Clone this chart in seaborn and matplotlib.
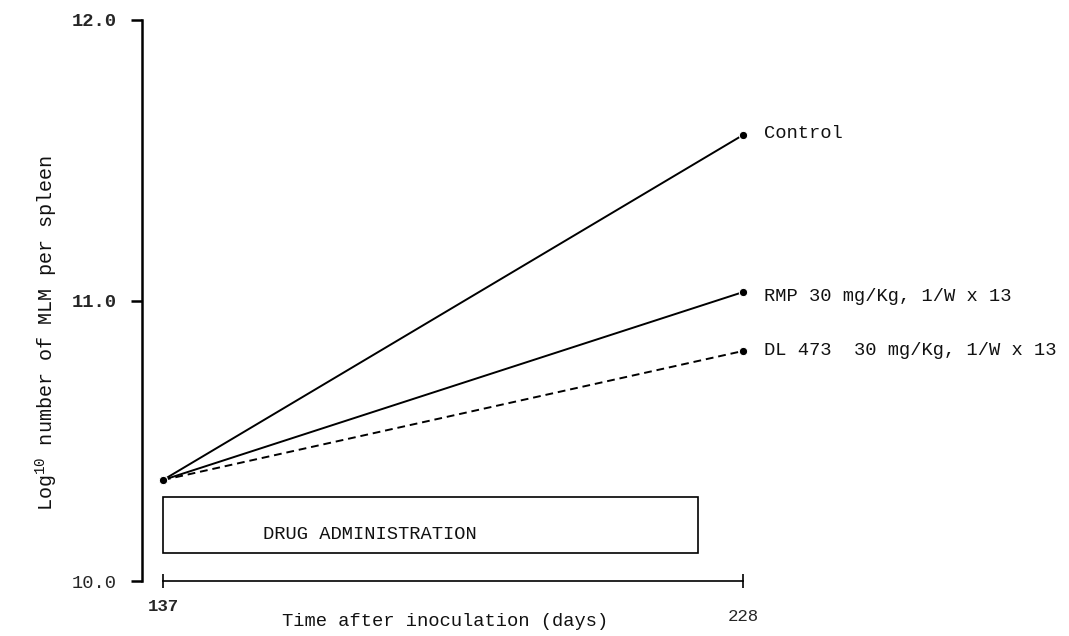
import matplotlib
matplotlib.use("Agg")
import matplotlib.pyplot as plt
from matplotlib.patches import Rectangle
from matplotlib.transforms import ScaledTranslation
import seaborn as sns
import pandas as pd

# ---- data ----
days = [137, 228]
control = [10.36, 11.59]
rmp = [10.36, 11.03]
dl473 = [10.36, 10.82]
series_names = ["Control", "RMP 30 mg/Kg, 1/W x 13", "DL 473  30 mg/Kg, 1/W x 13"]
drug_period = [137, 221]
drug_band = [10.10, 10.30]
y_ticks = [10.0, 11.0, 12.0]
y_tick_labels = ["10.0", "11.0", "12.0"]
x_ticks = [137, 228]
x_tick_labels = ["137", "228"]

df = pd.DataFrame({
    "day": days * 3,
    "value": control + rmp + dl473,
    "series": [series_names[0]] * 2 + [series_names[1]] * 2 + [series_names[2]] * 2,
})

sns.set_theme(style="white")
plt.rcParams["font.family"] = ["Liberation Mono", "DejaVu Sans Mono"]

fig = plt.figure(figsize=(10.69, 6.36), dpi=100)
ax = fig.add_axes([142 / 1069, (636 - 581) / 636, (1060 - 142) / 1069, (581 - 20) / 636])

sns.lineplot(
    data=df, x="day", y="value", hue="series", style="series",
    palette={n: "black" for n in series_names},
    dashes={series_names[0]: "", series_names[1]: "", series_names[2]: (4, 2.5)},
    markers={n: "o" for n in series_names},
    markersize=6, linewidth=1.4, legend=False, ax=ax, clip_on=False,
)

# drug administration box
ax.add_patch(Rectangle((drug_period[0], drug_band[0]), drug_period[1] - drug_period[0],
                       drug_band[1] - drug_band[0], fill=False, edgecolor="black", lw=1.2))
ax.annotate("DRUG ADMINISTRATION", xy=(drug_period[0], drug_band[0]), xytext=(72, 13),
            textcoords="offset points", ha="left", va="center", fontsize=13.5, color="#111111")

# end labels
ends = [control[-1], rmp[-1], dl473[-1]]
voffs = [1, -3, 0]
for name, yv, vo in zip(series_names, ends, voffs):
    ax.annotate(name, xy=(days[-1], yv), xytext=(15, vo), textcoords="offset points",
                ha="left", va="center", fontsize=13.5, color="#111111")

ax.set_xlim(137 - 21 / 6.374, 228 + 317 / 6.374)
ax.set_ylim(10.0, 12.0)

for s in ["top", "right"]:
    ax.spines[s].set_visible(False)
ax.spines["left"].set_linewidth(1.8)
ax.spines["left"].set_color("black")
ax.spines["bottom"].set_linewidth(1.2)
ax.spines["bottom"].set_color("black")
ax.spines["bottom"].set_bounds(days[0], days[-1])

ax.set_yticks(y_ticks)
ax.set_yticklabels(y_tick_labels, fontsize=13.5, fontweight="bold")
ax.set_xticks(x_ticks)
ax.set_xticklabels(x_tick_labels, fontsize=12.5)
ax.tick_params(axis="y", direction="out", length=8, width=1.8, color="black", pad=10, left=True)
ax.tick_params(axis="x", direction="inout", length=10, width=1.2, color="black", pad=8, bottom=True)
ax.get_yticklabels()[0].set_fontweight("normal")
ax.get_xticklabels()[0].set_fontweight("bold")
lab228 = ax.get_xticklabels()[1]
lab228.set_transform(lab228.get_transform() + ScaledTranslation(0, -7 / 72, fig.dpi_scale_trans))

ax.set_xlabel("Time after inoculation (days)", fontsize=13.5, color="#111111", va="center")
ax.xaxis.set_label_coords((445 - 142) / 918, (581 - 622) / 561)
ax.set_ylabel(r"Log$^{\mathregular{10}}$ number of MLM per spleen", fontsize=14.5, color="#111111",
              va="center")
ax.yaxis.set_label_coords((47 - 142) / 918, (581 - 333) / 561)

ax.grid(False)
fig.savefig("out.png", dpi=100, facecolor="white")
